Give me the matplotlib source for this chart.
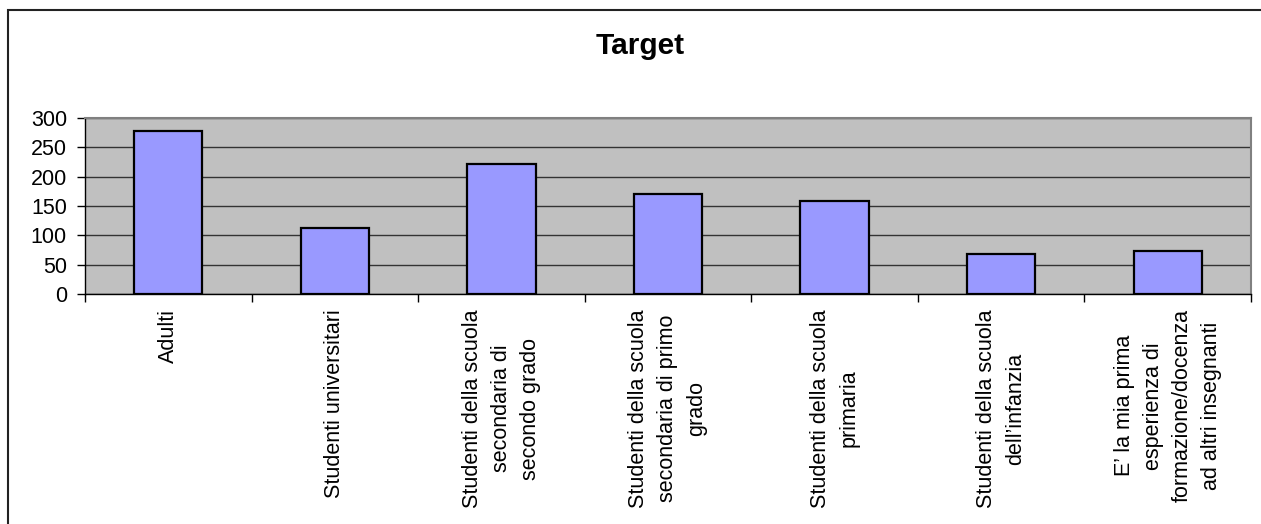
import numpy as np
import matplotlib.pyplot as plt
from matplotlib.patches import Rectangle

plt.rcParams['font.family'] = ['Liberation Sans', 'DejaVu Sans']

# Data
categories = ['Adulti',
              'Studenti universitari',
              'Studenti della scuola\nsecondaria di\nsecondo grado',
              'Studenti della scuola\nsecondaria di primo\ngrado',
              'Studenti della scuola\nprimaria',
              'Studenti della scuola\ndell\u2019infanzia',
              'E\u2019 la mia prima\nesperienza di\nformazione/docenza\nad altri insegnanti']
values = [277, 113, 221, 171, 158, 69, 74]
y_ticks = [0, 50, 100, 150, 200, 250, 300]

fig = plt.figure(figsize=(12.61, 5.24), dpi=100)
ax = fig.add_axes([85 / 1261, 1 - 294 / 524, 1166 / 1261, 176 / 524])

x = np.arange(len(categories))
ax.set_facecolor('#C0C0C0')
ax.bar(x, values, width=0.41, color='#9999FF', edgecolor='black', linewidth=1.6, zorder=3)

# grid lines
ax.set_yticks(y_ticks)
ax.yaxis.grid(True, color='#333333', linewidth=1.0, zorder=1)
ax.set_axisbelow(True)
ax.set_ylim(0, 300)
ax.set_xlim(-0.5, len(categories) - 0.5)

# category labels at centers, tick marks at boundaries
ax.set_xticks(x)
ax.set_xticklabels(categories, rotation=90, ha='center', va='top',
                   multialignment='center', fontsize=15.5, linespacing=1.5)
ax.tick_params(axis='x', which='major', length=0, pad=11)
ax.set_xticks(np.arange(len(categories) + 1) - 0.5, minor=True)
ax.tick_params(axis='x', which='minor', length=6, width=1, color='black', direction='out')
ax.tick_params(axis='y', length=6, width=1, direction='out', pad=7, labelsize=15.5)

for side in ['top', 'right']:
    ax.spines[side].set_color('#808080')
    ax.spines[side].set_linewidth(1.5)
for side in ['left', 'bottom']:
    ax.spines[side].set_color('black')
    ax.spines[side].set_linewidth(1.0)

fig.text(640 / 1261, 1 - 46 / 524, 'Target', ha='center', va='center',
         fontsize=21.5, fontweight='bold')

# outer chart border
fig.patches.append(Rectangle((8 / 1261, -0.1), 1.2, 1.1 - 10 / 524,
                             transform=fig.transFigure, fill=False,
                             edgecolor='#222222', linewidth=1.5))

plt.savefig('out.png', dpi=100)
